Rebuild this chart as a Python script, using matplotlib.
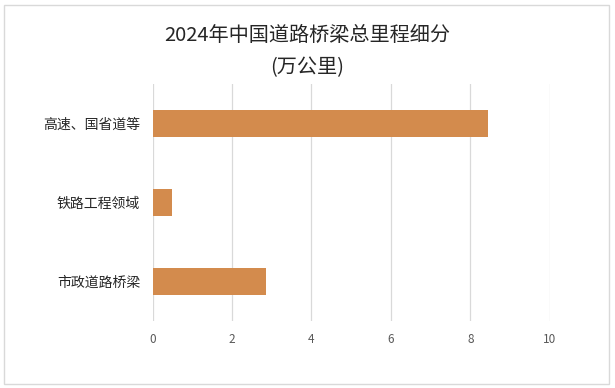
import matplotlib
matplotlib.use("Agg")
import matplotlib.pyplot as plt
from matplotlib.patches import Rectangle

plt.rcParams['font.family'] = ['Noto Sans CJK SC', 'DejaVu Sans']

categories = ['高速、国省道等', '铁路工程领域', '市政道路桥梁']
values = [8.45, 0.5, 2.85]
xticks = [0, 2, 4, 6, 8, 10]
title_line1 = '2024年中国道路桥梁总里程细分'
title_line2 = '(万公里)'

fig = plt.figure(figsize=(6.15, 3.88), dpi=100)
ax = fig.add_axes([0.248, 0.1727, 0.646, 0.6108])

ypos = list(range(len(categories)))
ax.barh(ypos, values, height=0.34, color='#D38B4D', zorder=3)
ax.set_ylim(len(categories) - 0.5, -0.5)
ax.set_xlim(0, 10)
ax.set_xticks(xticks)
ax.set_xticklabels([str(t) for t in xticks], fontsize=8.5, color='#595959')
ax.set_yticks(ypos)
ax.set_yticklabels(categories, fontsize=10, color='#262626')
ax.tick_params(axis='both', length=0)
ax.tick_params(axis='y', pad=9)
ax.tick_params(axis='x', pad=9)
ax.grid(axis='x', color='#D9D9D9', linewidth=0.9, zorder=0)
for s in ax.spines.values():
    s.set_visible(False)

fig.text(0.5, 1 - 35 / 388, title_line1, ha='center', va='center', fontsize=14.5, color='#262626')
fig.text(0.5, 1 - 68 / 388, title_line2, ha='center', va='center', fontsize=14.5, color='#262626')

fig.patches.append(Rectangle((4 / 615, 4 / 388), 605 / 615, 379 / 388, transform=fig.transFigure,
                             fill=False, edgecolor='#D9D9D9', linewidth=1))

fig.savefig('out.png', dpi=100)
